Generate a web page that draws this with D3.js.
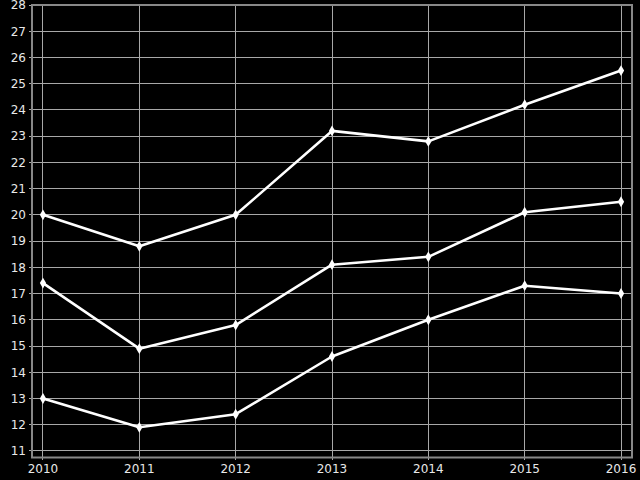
<!DOCTYPE html>
<html><head><meta charset="utf-8">
<script src="https://cdn.jsdelivr.net/npm/d3@7"></script>
<style>html,body{margin:0;padding:0;background:#000;}svg{display:block;}</style>
</head><body>
<svg id="c" width="640" height="480"></svg>
<script>
const years = [2010, 2011, 2012, 2013, 2014, 2015, 2016];
const seriesA = [20, 18.8, 20, 23.2, 22.8, 24.2, 25.5];
const seriesB = [17.4, 14.9, 15.8, 18.1, 18.4, 20.1, 20.5];
const seriesC = [13, 11.9, 12.4, 14.6, 16.0, 17.3, 17.0];
const yTicks = [11,12,13,14,15,16,17,18,19,20,21,22,23,24,25,26,27,28];

const svg = d3.select("#c");
const L = 32, R = 632, T = 5, B = 457.5;
const x = d3.scaleLinear().domain([2009.886, 2016.114]).range([L, R]);
const y = d3.scaleLinear().domain([10.75, 28]).range([B, T]);

svg.append("rect").attr("width",640).attr("height",480).attr("fill","#000");

// grid
const g = svg.append("g");
g.selectAll(".hy").data(yTicks).join("line")
  .attr("x1", L-3).attr("x2", R).attr("y1", d=>y(d)).attr("y2", d=>y(d))
  .attr("stroke","#a8a8a8").attr("stroke-width",1).attr("shape-rendering","crispEdges");
g.selectAll(".vx").data(years).join("line")
  .attr("y1", T).attr("y2", B+2).attr("x1", d=>x(d)).attr("x2", d=>x(d))
  .attr("stroke","#a8a8a8").attr("stroke-width",1).attr("shape-rendering","crispEdges");

// frame
svg.append("rect").attr("x",L).attr("y",T).attr("width",R-L).attr("height",B-T)
  .attr("fill","none").attr("stroke","#888").attr("stroke-width",2);

// labels
svg.append("g").selectAll("text").data(yTicks).join("text")
  .attr("x", 26).attr("y", d=>y(d)).attr("dy","0.36em")
  .attr("text-anchor","end").attr("fill","#e8e8e8")
  .attr("font-family","DejaVu Sans").attr("font-size",12)
  .text(d=>d);
svg.append("g").selectAll("text").data(years).join("text")
  .attr("x", d=>x(d)).attr("y", 473)
  .attr("text-anchor","middle").attr("fill","#e8e8e8")
  .attr("font-family","DejaVu Sans").attr("font-size",12)
  .text(d=>d);

// lines
const line = d3.line().x((d,i)=>x(years[i])).y(d=>y(d));
const diamond = d3.symbol().type(d3.symbolDiamond).size(34);
[seriesA, seriesB, seriesC].forEach(s => {
  svg.append("path").datum(s).attr("d", line)
    .attr("fill","none").attr("stroke","#fff").attr("stroke-width",2.6)
    .attr("stroke-linejoin","round");
  svg.append("g").selectAll("path").data(s).join("path")
    .attr("d", diamond)
    .attr("transform",(d,i)=>`translate(${x(years[i])},${y(d)})`)
    .attr("fill","#fff");
});
</script>
</body></html>
